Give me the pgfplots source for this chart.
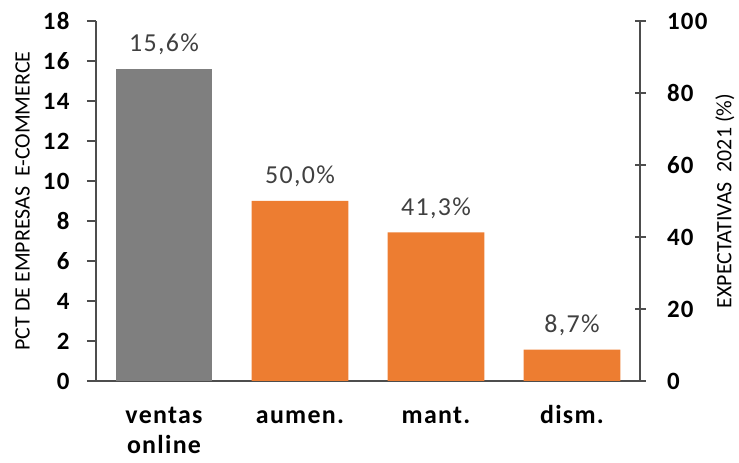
\documentclass[border=0pt]{standalone}
\usepackage{pgfplots}
\pgfplotsset{compat=1.18}
\usepackage{fontspec}
\setmainfont{Carlito}
\newfontfamily\spc[LetterSpace=5]{Carlito}
\definecolor{bgray}{HTML}{7F7F7F}
\definecolor{bor}{HTML}{ED7D31}
\definecolor{txt}{HTML}{404040}
\definecolor{axc}{HTML}{4D4D4D}
\begin{document}
\begin{tikzpicture}[x=1bp,y=1bp]
\useasboundingbox (0,0) rectangle (739,463);
\pgfplotsset{
  common/.style={
    at={(96bp,82bp)}, anchor=south west,
    width=544bp, height=360bp, scale only axis,
    xmin=-0.5, xmax=3.5,
    ymin=0,
    bar width=0.71,
    axis line style={axc, line width=1.3pt},
    tick style={axc, line width=1.3pt},
    tick label style={font=\spc\fontsize{25}{27}\selectfont\bfseries, text=black},
    /pgf/number format/assume math mode=true,
    nodes near coords style={font=\spc\fontsize{26}{28}\selectfont, text=txt, anchor=base, yshift=17bp},
    ylabel style={font=\fontsize{22}{24}\selectfont, text=black},
  }
}
\begin{axis}[common,
  ymax=18, ytick={0,2,...,18},
  axis y line*=left, axis x line*=bottom,
  xtick={0,1,2,3},
  xticklabels={\vphantom{d}ventas\\online, \vphantom{d}aumen., \vphantom{d}mant., \vphantom{d}dism.},
  xticklabel style={align=center, font=\spc\fontsize{26}{30}\selectfont\bfseries, anchor=north, yshift=-23bp, inner sep=1bp},
  major x tick style={draw=none},
  extra x ticks={-0.5,0.5,1.5,2.5,3.5},
  extra x tick labels={},
  extra x tick style={tick align=outside, major tick length=11bp, major x tick style={axc,line width=1.3pt}},
  ytick align=outside,
  major tick length=9bp,
  yticklabel style={xshift=-14bp},
  ylabel={PCT DE EMPRESAS\ \ E-COMMERCE},
  ylabel style={at={(axis description cs:-0.135,0.5)}, anchor=center},
]
\addplot[ybar, fill=bgray, draw=none,
  nodes near coords={15,6\%}] coordinates {(0,15.6)};
\end{axis}
\begin{axis}[common,
  ymax=100, ytick={0,20,...,100},
  axis y line*=right, axis x line=none,
  ytick align=center, major tick length=11bp,
  yticklabel style={xshift=18bp},
  ylabel={EXPECTATIVAS\ \ 2021 (\%)},
  ylabel style={at={(axis description cs:1.156,0.5)}, anchor=center},
  xtick=\empty,
]
\addplot[ybar, fill=bor, draw=none,
  nodes near coords={\pgfmathprintnumber[fixed,fixed zerofill,precision=1,use comma]{\pgfplotspointmeta}\%}]
  coordinates {(1,50.0) (2,41.3) (3,8.7)};
\end{axis}
\end{tikzpicture}
\end{document}
